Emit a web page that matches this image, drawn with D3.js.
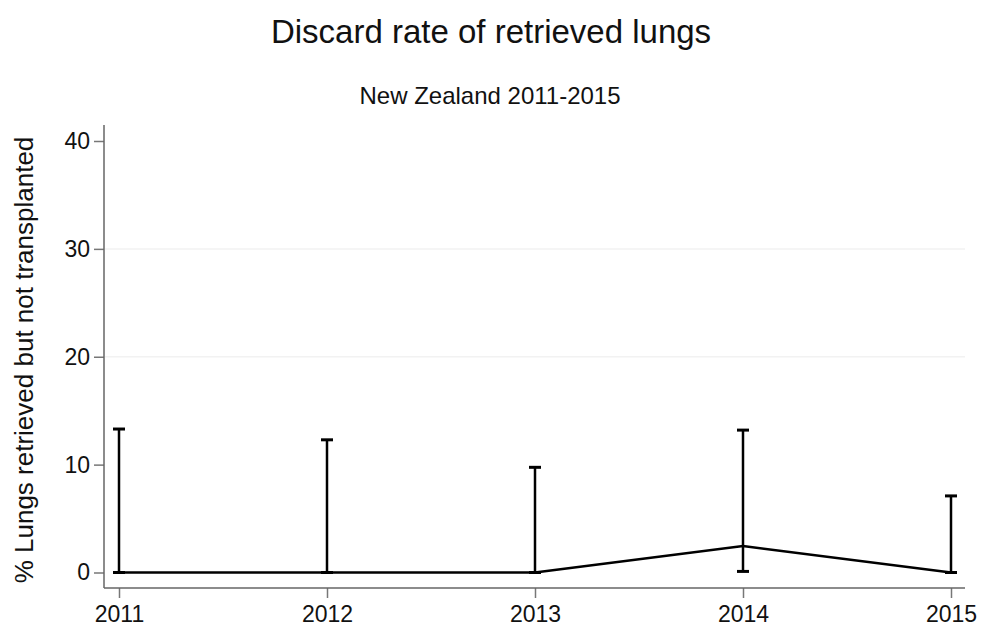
<!DOCTYPE html>
<html>
<head>
<meta charset="utf-8">
<script src="https://cdnjs.cloudflare.com/ajax/libs/d3/7.8.5/d3.min.js"></script>
<style>
  body { margin: 0; background: #fff; }
  svg { display: block; font-family: "Liberation Sans", Arial, sans-serif; }
</style>
</head>
<body>
<svg id="chart" width="981" height="626"></svg>
<script>
const years = [2011, 2012, 2013, 2014, 2015];
const rate = [0, 0, 0, 2.45, 0];
const lower = [0, 0, 0, 0.1, 0];
const upper = [13.3, 12.3, 9.75, 13.2, 7.1];
const yTicks = [0, 10, 20, 30, 40];
const gridTicks = [20, 30];

(function () {
const svg = d3.select("#chart");
const W = 981, H = 626;
const pLeft = 104, pRight = 965, pTop = 125, pBottom = 588;

const x = d3.scalePoint().domain(years).range([119, 951]);
const y = d3.scaleLinear().domain([0, 40]).range([572.5, 141]);

svg.append("rect").attr("width", W).attr("height", H).attr("fill", "#fff");

// gridlines
svg.append("g").selectAll("line").data(gridTicks).join("line")
  .attr("x1", pLeft + 1).attr("x2", pRight)
  .attr("y1", d => y(d)).attr("y2", d => y(d))
  .attr("stroke", "#f2f2f2").attr("stroke-width", 1.5);

// y axis
const yAxis = svg.append("g").attr("transform", `translate(${pLeft},0)`)
  .call(d3.axisLeft(y).tickValues(yTicks).tickSize(10).tickPadding(4).tickFormat(d3.format("d")));
yAxis.select(".domain").remove();
yAxis.append("line").attr("x1", 0).attr("x2", 0).attr("y1", pTop).attr("y2", pBottom)
  .attr("stroke", "#666").attr("stroke-width", 1.5);
yAxis.selectAll(".tick line").attr("stroke", "#777").attr("stroke-width", 1.5);
yAxis.selectAll(".tick text").attr("font-size", 23).attr("fill", "#111")
  .attr("font-family", "Liberation Sans, Arial, sans-serif");

// x axis
const xAxis = svg.append("g").attr("transform", `translate(0,${pBottom})`)
  .call(d3.axisBottom(x).tickSize(10).tickPadding(8).tickFormat(d3.format("d")));
xAxis.select(".domain").remove();
xAxis.append("line").attr("x1", pLeft).attr("x2", pRight).attr("y1", 0).attr("y2", 0)
  .attr("stroke", "#666").attr("stroke-width", 1.5);
xAxis.selectAll(".tick line").attr("stroke", "#777").attr("stroke-width", 1.5);
xAxis.selectAll(".tick text").attr("font-size", 23).attr("fill", "#111")
  .attr("font-family", "Liberation Sans, Arial, sans-serif");

// error bars
const data = years.map((yr, i) => ({ yr, v: rate[i], lo: lower[i], hi: upper[i] }));
const eb = svg.append("g").attr("stroke", "#000").attr("stroke-width", 2.5).attr("fill", "none");
eb.selectAll("line.v").data(data).join("line").attr("class", "v")
  .attr("x1", d => x(d.yr)).attr("x2", d => x(d.yr))
  .attr("y1", d => y(d.lo)).attr("y2", d => y(d.hi));
eb.selectAll("line.hi").data(data).join("line").attr("class", "hi")
  .attr("x1", d => x(d.yr) - 6).attr("x2", d => x(d.yr) + 6)
  .attr("y1", d => y(d.hi)).attr("y2", d => y(d.hi)).attr("stroke-width", 3);
eb.selectAll("line.lo").data(data).join("line").attr("class", "lo")
  .attr("x1", d => x(d.yr) - 6).attr("x2", d => x(d.yr) + 6)
  .attr("y1", d => y(d.lo)).attr("y2", d => y(d.lo)).attr("stroke-width", 3);

// mean line
svg.append("path").datum(data)
  .attr("fill", "none").attr("stroke", "#000").attr("stroke-width", 2.5)
  .attr("d", d3.line().x(d => x(d.yr)).y(d => y(d.v)));

// titles
svg.append("text").attr("x", 491).attr("y", 43).attr("text-anchor", "middle")
  .attr("font-size", 33).attr("fill", "#111").text("Discard rate of retrieved lungs");
svg.append("text").attr("x", 490).attr("y", 104).attr("text-anchor", "middle")
  .attr("font-size", 24).attr("fill", "#111").text("New Zealand 2011-2015");
svg.append("text").attr("transform", "translate(33,360) rotate(-90)")
  .attr("text-anchor", "middle").attr("font-size", 26).attr("fill", "#111")
  .text("% Lungs retrieved but not transplanted");
})();
</script>
</body>
</html>
